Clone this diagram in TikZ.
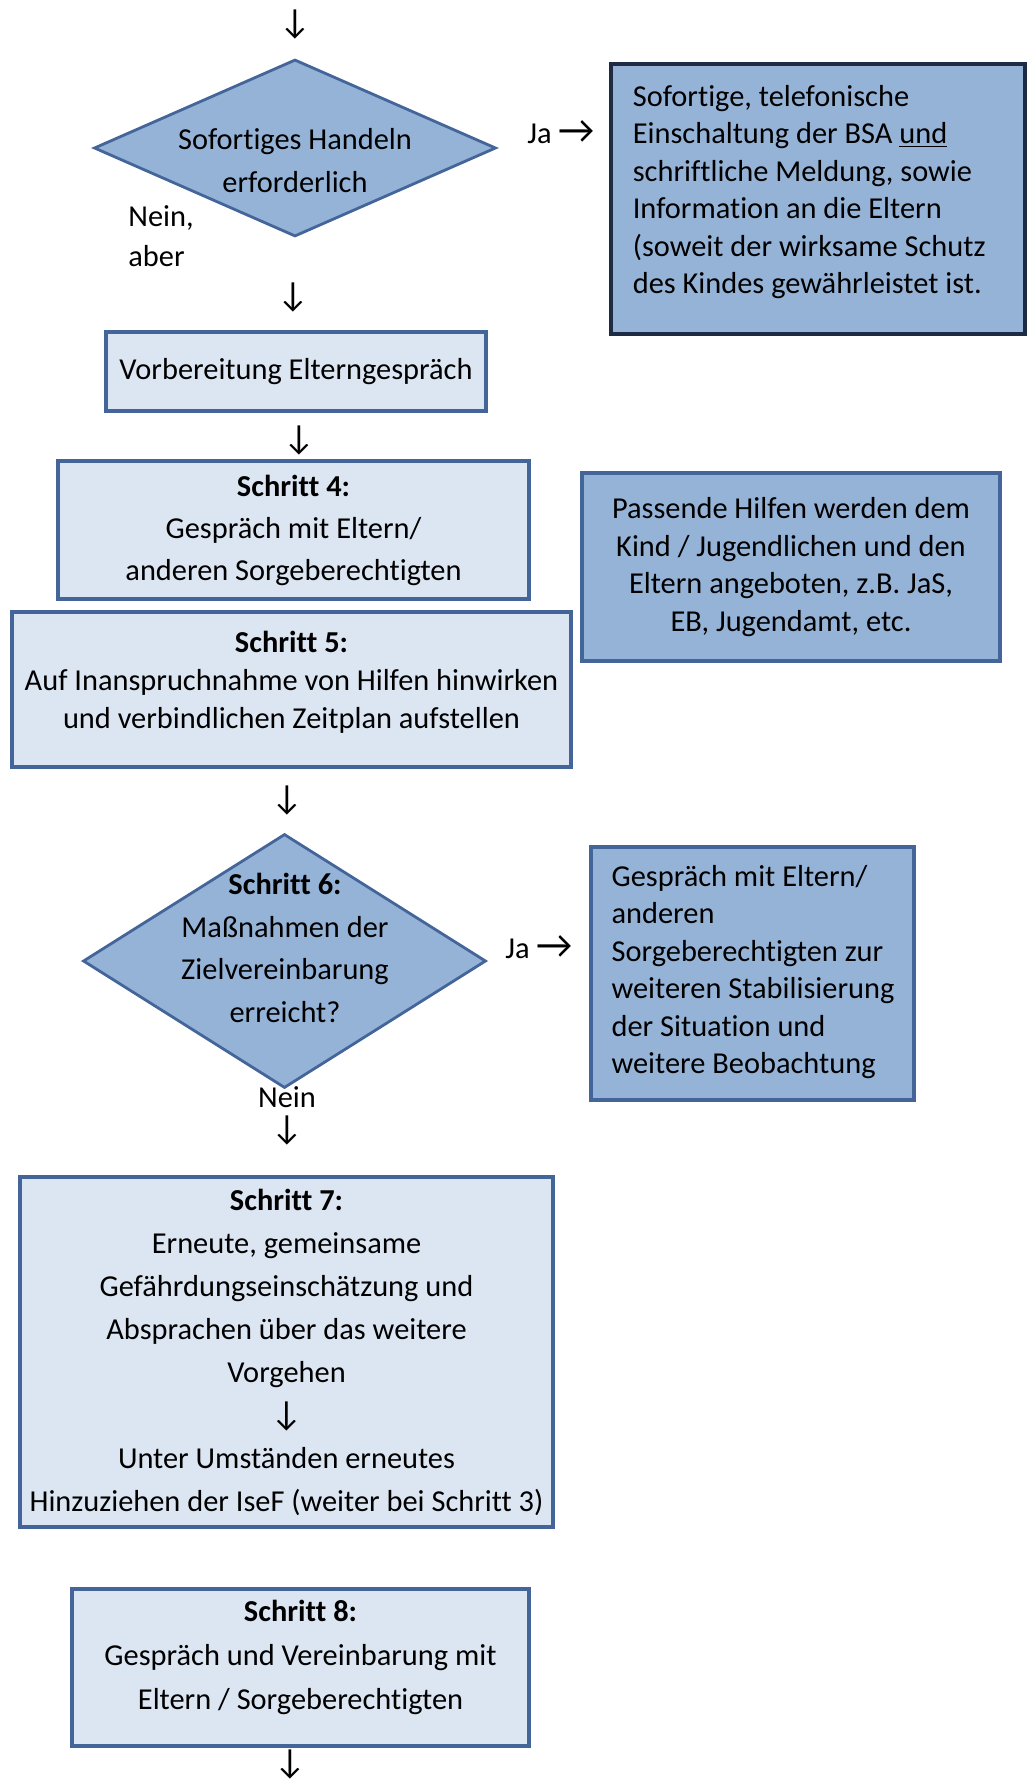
\documentclass[tikz,border=0pt]{standalone}
\usepackage{fontspec}
\setmainfont{Carlito}[Ligatures=NoCommon]
\newfontfamily\carlarr{Carlito}
\usetikzlibrary{shapes.geometric}
\definecolor{midfill}{HTML}{95B3D7}
\definecolor{lightfill}{HTML}{DCE6F2}
\definecolor{bordblue}{HTML}{44659A}
\definecolor{darkbord}{HTML}{1E2B45}
\newcommand\loosefont{\fontsize{15.2}{21.5}\selectfont}
\newcommand\tightfont{\fontsize{15.2}{18.7}\selectfont}
\newcommand\darr{{\carlarr\fontsize{17.5}{18}\selectfont ↓}}
\newcommand\sdarr{{\carlarr\fontsize{17.5}{18}\selectfont\smash{↓}}}
\newcommand\rarr{{\carlarr\fontsize{20}{20}\selectfont\smash{→}}}
\begin{document}
\begin{tikzpicture}[x=0.5pt,y=-0.5pt,
  lightbox/.style={draw=bordblue, line width=1.8pt, fill=lightfill, inner sep=0pt, align=center},
  midbox/.style={draw=bordblue, line width=1.8pt, fill=midfill, inner sep=0pt, align=center},
  dia/.style={diamond, draw=bordblue, line width=1.4pt, fill=midfill, inner sep=0pt},
  loose/.style={inner sep=0pt, align=center, font=\loosefont},
  tight/.style={inner sep=0pt, align=center, font=\tightfont},
  lbl/.style={inner sep=0pt, font=\loosefont},
  arrowmark/.style={inner sep=0pt}
]
\useasboundingbox[fill=white] (0,0) rectangle (1028,1782);

% top arrow
\node[arrowmark] (a0) at (295,25) {\darr};

% decision 1
\node[dia, minimum width=201pt, minimum height=88.5pt] (d1) at (295,148) {};
\node[loose] (d1t) at (295,160.5) {Sofortiges Handeln\\erforderlich};
\node[lbl] (ja1) at (561,134) {Ja \rarr};
\node[inner sep=0pt, anchor=west, align=left, font=\fontsize{15.2}{20}\selectfont] (nein1) at (128,236) {Nein,\\aber};

% right box 1
\node[midbox, draw=darkbord, line width=1.6pt, minimum width=207pt, minimum height=135pt] (r1) at (818,199) {};
\node[tight, align=left, anchor=west] (r1t) at ([xshift=11.5pt,yshift=3.5pt]r1.west)
  {Sofortige, telefonische\\Einschaltung der BSA \underline{und}\\schriftliche Meldung, sowie\\Information an die Eltern\\(soweit der wirksame Schutz\\des Kindes gewährleistet ist.};

\node[arrowmark] (a1) at (293,298) {\darr};

% Vorbereitung
\node[lightbox, minimum width=190pt, minimum height=39.5pt, font=\loosefont] (vb) at (296,371.5) {Vorbereitung Elterngespräch};

\node[arrowmark] (a2) at (299,440) {\darr};

% Schritt 4
\node[lightbox, minimum width=235.5pt, minimum height=69pt, font=\fontsize{15.2}{21}\selectfont] (s4) at (293.5,530)
  {\textbf{Schritt 4:}\\Gespräch mit Eltern/\\anderen Sorgeberechtigten};

% Passende Hilfen
\node[midbox, minimum width=209pt, minimum height=94pt, font=\tightfont] (ph) at (791,567)
  {Passende Hilfen werden dem\\Kind / Jugendlichen und den\\Eltern angeboten, z.B. JaS,\\EB, Jugendamt, etc.};

% Schritt 5
\node[lightbox, minimum width=279.5pt, minimum height=77.5pt] (s5) at (291.5,689.5) {};
\node[inner sep=0pt, align=center, font=\fontsize{15.2}{19}\selectfont] (s5t) at (291.5,682)
  {\textbf{Schritt 5:}\\Auf Inanspruchnahme von Hilfen hinwirken\\und verbindlichen Zeitplan aufstellen};

\node[arrowmark] (a3) at (287,800) {\darr};

% decision 2
\node[dia, minimum width=201.5pt, minimum height=127pt] (d2) at (284.5,961) {};
\node[inner sep=0pt, align=center, font=\fontsize{15.2}{21.3}\selectfont] (d2t) at (285,948)
  {\textbf{Schritt 6:}\\Maßnahmen der\\Zielvereinbarung\\erreicht?};
\node[lbl] (ja2) at (539,949) {Ja \rarr};

% right box 2
\node[midbox, minimum width=161.5pt, minimum height=126.5pt] (r2) at (752.5,973.5) {};
\node[tight, align=left, anchor=west] (r2t) at ([xshift=11pt,yshift=0.75pt]r2.west)
  {Gespräch mit Eltern/\\anderen\\Sorgeberechtigten zur\\weiteren Stabilisierung\\der Situation und\\weitere Beobachtung};

\node[lbl] (nein2) at (287,1097) {Nein};
\node[arrowmark] (a4) at (287,1130) {\darr};

% Schritt 7
\node[lightbox, minimum width=266.5pt, minimum height=175pt, font=\loosefont] (s7) at (286.5,1352)
  {\textbf{Schritt 7:}\\Erneute, gemeinsame\\Gefährdungseinschätzung und\\Absprachen über das weitere\\Vorgehen\\\sdarr\\Unter Umständen erneutes\\Hinzuziehen der IseF (weiter bei Schritt 3)};

% Schritt 8
\node[lightbox, minimum width=228.5pt, minimum height=78.5pt] (s8) at (300.5,1667.5) {};
\node[inner sep=0pt, align=center, font=\fontsize{15.2}{22}\selectfont] (s8t) at (300.5,1657)
  {\textbf{Schritt 8:}\\Gespräch und Vereinbarung mit\\Eltern / Sorgeberechtigten};

\node[arrowmark] (a5) at (290,1764) {\darr};
\end{tikzpicture}
\end{document}
